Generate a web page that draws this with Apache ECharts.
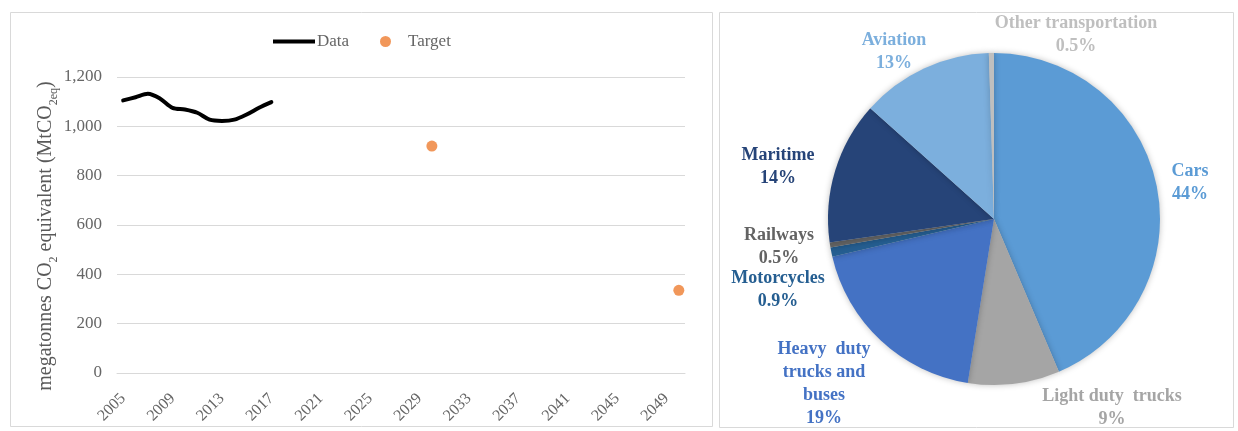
<!DOCTYPE html>
<html>
<head>
<meta charset="utf-8">
<script src="https://cdn.jsdelivr.net/npm/echarts@6/dist/echarts.min.js"></script>
<style>
  html, body { margin: 0; padding: 0; background: #fff; }
  #chart { width: 1238px; height: 431px; }
</style>
</head>
<body>
<div id="chart"></div>
<script>
// Transport emissions: historic series and targets
const years = [];
for (let y = 2005; y <= 2050; y++) years.push(String(y));

const dataYears = ['2005','2006','2007','2008','2009','2010','2011','2012','2013','2014','2015','2016','2017'];
const dataValues = [1105, 1118, 1132, 1112, 1075, 1068, 1055, 1027, 1022, 1027, 1048, 1075, 1098];

const targetYears = ['2030', '2050'];
const targetValues = [920, 335];

// Shares of transport emissions by mode (%)
const modes = ['Cars', 'Light duty  trucks', 'Heavy  duty\ntrucks and\nbuses', 'Motorcycles', 'Railways', 'Maritime', 'Aviation', 'Other transportation'];
const shares = [44, 9, 19, 0.9, 0.5, 14, 13, 0.5];
const modeColors = ['#5b9bd5', '#a5a5a5', '#4472c4', '#255e91', '#636363', '#264478', '#7cafdd', '#bfbfbf'];

// label anchor points for each mode (pixel positions in the chart)
const labelSpots = {
  'Cars': [1190, 183],
  'Light duty  trucks': [1112, 408],
  'Heavy  duty\ntrucks and\nbuses': [824, 384],
  'Motorcycles': [778, 290],
  'Railways': [779, 247],
  'Maritime': [778, 167],
  'Aviation': [894, 52],
  'Other transportation': [1076, 35]
};

const serif = '"Liberation Serif", "Times New Roman", serif';
const textGray = '#666666';

const lineData = years.map(y => {
  const i = dataYears.indexOf(y);
  return i >= 0 ? dataValues[i] : null;
});
const targetData = years.map(y => {
  const i = targetYears.indexOf(y);
  return i >= 0 ? targetValues[i] : null;
});

const chart = echarts.init(document.getElementById('chart'), null, { renderer: 'canvas' });

const legendText = { fontFamily: serif, fontSize: 17, color: textGray };

chart.setOption({
  animation: false,
  backgroundColor: '#fff',
  graphic: [
    { type: 'rect', shape: { x: 10.5, y: 12.5, width: 702, height: 414 },
      style: { fill: 'none', stroke: '#d9d9d9', lineWidth: 1 }, z: -1 },
    { type: 'rect', shape: { x: 719.5, y: 12.5, width: 514, height: 415 },
      style: { fill: 'none', stroke: '#d9d9d9', lineWidth: 1 }, z: -1 }
  ],
  legend: [
    {
      top: 33,
      left: 273,
      padding: 0,
      itemWidth: 42,
      itemHeight: 4,
      textStyle: Object.assign({ padding: [0, 0, 0, -3] }, legendText),
      data: [{ name: 'Data', icon: 'rect', itemStyle: { color: '#000' } }]
    },
    {
      top: 33,
      left: 380,
      padding: 0,
      itemWidth: 11,
      itemHeight: 11,
      textStyle: Object.assign({ padding: [0, 0, 0, 12] }, legendText),
      data: [{ name: 'Target', icon: 'circle' }]
    }
  ],
  grid: { left: 117, right: 553, top: 77, bottom: 58 },
  xAxis: {
    type: 'category',
    data: years,
    boundaryGap: true,
    axisLine: { lineStyle: { color: '#d9d9d9', width: 1 } },
    axisTick: { show: false },
    axisLabel: {
      interval: 3,
      rotate: 45,
      margin: 23,
      fontFamily: serif,
      fontSize: 16,
      color: textGray
    }
  },
  yAxis: {
    type: 'value',
    min: 0,
    max: 1200,
    interval: 200,
    axisLine: { show: false },
    axisTick: { show: false },
    splitLine: { lineStyle: { color: '#d9d9d9', width: 1 } },
    axisLabel: {
      margin: 15,
      fontFamily: serif,
      fontSize: 17,
      color: textGray,
      formatter: v => v.toLocaleString('en-US')
    },
    name: '{a|megatonnes CO}{s|2}{a| equivalent (MtCO}{s|2eq}{a|)}',
    nameLocation: 'middle',
    nameRotate: 90,
    nameGap: 59,
    nameTextStyle: {
      padding: [0, 22, 0, 0],
      rich: {
        a: { fontFamily: serif, fontSize: 20, color: '#595959', lineHeight: 22, verticalAlign: 'bottom' },
        s: { fontFamily: serif, fontSize: 12, color: '#595959', lineHeight: 22, verticalAlign: 'bottom', padding: [0, 0, -4, 0] }
      }
    }
  },
  series: [
    {
      name: 'Data',
      type: 'line',
      data: lineData,
      smooth: 0.3,
      showSymbol: false,
      symbol: 'none',
      connectNulls: false,
      itemStyle: { color: '#000' },
      lineStyle: { color: '#000', width: 4, cap: 'round', join: 'round' }
    },
    {
      name: 'Target',
      type: 'scatter',
      data: targetData,
      symbol: 'circle',
      symbolSize: 11,
      itemStyle: { color: '#ed7d31' }
    },
    {
      name: 'Modes',
      type: 'pie',
      center: [994, 219],
      radius: 166,
      startAngle: 90,
      clockwise: true,
      avoidLabelOverlap: false,
      data: modes.map((m, i) => ({
        name: m,
        value: shares[i],
        itemStyle: { color: modeColors[i] },
        label: { color: modeColors[i] }
      })),
      itemStyle: {
        borderWidth: 0,
        shadowBlur: 6,
        shadowColor: 'rgba(0,0,0,0.25)'
      },
      label: {
        show: true,
        position: 'outside',
        formatter: p => p.name + '\n' + p.value + '%',
        fontFamily: serif,
        fontWeight: 'bold',
        fontSize: 18,
        lineHeight: 23,
        align: 'center'
      },
      labelLine: { show: false },
      labelLayout: params => {
        const spot = labelSpots[modes[params.dataIndex]];
        return { x: spot[0], y: spot[1], align: 'center', verticalAlign: 'middle' };
      },
      emphasis: { disabled: true }
    }
  ]
});
</script>
</body>
</html>
